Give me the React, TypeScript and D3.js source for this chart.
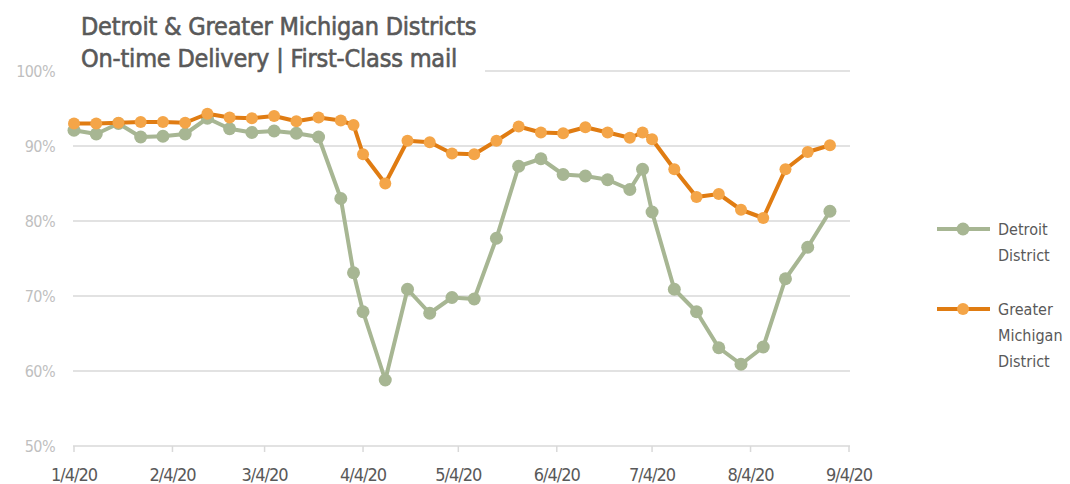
import React from "react";
import * as d3 from "d3";

const dates = [
  "2020-01-04","2020-01-11","2020-01-18","2020-01-25","2020-02-01","2020-02-08","2020-02-15","2020-02-22","2020-02-29",
  "2020-03-07","2020-03-14","2020-03-21","2020-03-28","2020-04-01","2020-04-04","2020-04-11","2020-04-18","2020-04-25",
  "2020-05-02","2020-05-09","2020-05-16","2020-05-23","2020-05-30","2020-06-06","2020-06-13","2020-06-20","2020-06-27",
  "2020-07-01","2020-07-04","2020-07-11","2020-07-18","2020-07-25","2020-08-01","2020-08-08","2020-08-15","2020-08-22","2020-08-29",
];
const detroit = [
  92.1, 91.6, 93.0, 91.2, 91.3, 91.6, 93.7, 92.3, 91.8,
  92.0, 91.7, 91.2, 83.0, 73.1, 67.9, 58.8, 70.9, 67.7,
  69.8, 69.6, 77.7, 87.3, 88.3, 86.2, 86.0, 85.5, 84.2,
  86.9, 81.2, 70.9, 67.9, 63.1, 60.9, 63.2, 72.3, 76.5, 81.3,
];
const greaterMichigan = [
  93.0, 93.0, 93.1, 93.2, 93.2, 93.1, 94.3, 93.8, 93.7,
  94.0, 93.3, 93.8, 93.4, 92.8, 88.9, 85.0, 90.7, 90.5,
  89.0, 88.9, 90.7, 92.6, 91.8, 91.7, 92.5, 91.8, 91.1,
  91.8, 90.9, 86.9, 83.2, 83.6, 81.5, 80.4, 86.9, 89.2, 90.1,
];
const yTicks = [50, 60, 70, 80, 90, 100];
const xTickDates = ["2020-01-04","2020-02-04","2020-03-04","2020-04-04","2020-05-04","2020-06-04","2020-07-04","2020-08-04","2020-09-04"];
const titleLines = ["Detroit & Greater Michigan Districts", "On-time Delivery | First-Class mail"];

const FONT = "'DejaVu Sans Condensed', 'Liberation Sans Narrow', Roboto, sans-serif";

export default function App() {
  const parse = d3.utcParse("%Y-%m-%d");
  const fmt = (d: Date) => `${d.getUTCMonth() + 1}/${d.getUTCDate()}/${String(d.getUTCFullYear()).slice(2)}`;
  const x = d3.scaleUtc().domain([parse(xTickDates[0])!, parse(xTickDates[xTickDates.length - 1])!]).range([74, 849]);
  const y = d3.scaleLinear().domain([50, 100]).range([446, 71]);

  const series = [
    { name: ["Detroit", "District"], values: detroit, line: "#a7b693", dot: "#a7b693", r: 6.5, ly: 229 },
    { name: ["Greater", "Michigan", "District"], values: greaterMichigan, line: "#e07c12", dot: "#f4a548", r: 6, ly: 309 },
  ];
  const lineGen = d3.line<[Date, number]>().x((d) => x(d[0])).y((d) => y(d[1]));

  return (
    <svg width={1070} height={484} style={{ position: "absolute", left: 0, top: 0, background: "#fff" }}>
      {yTicks.map((t) => (
        <g key={t}>
          <line x1={73} x2={850} y1={y(t)} y2={y(t)} stroke="#d9d9d9" strokeWidth={1.5} />
          <text x={55} y={y(t)} dy="0.37em" textAnchor="end" fill="#bfbfbf" fontSize={16} letterSpacing={-0.6} fontFamily={FONT}>{t}%</text>
        </g>
      ))}
      {xTickDates.map((s) => {
        const d = parse(s)!;
        return (
          <g key={s}>
            <line x1={x(d)} x2={x(d)} y1={y(50)} y2={y(50) + 6} stroke="#d9d9d9" strokeWidth={1.5} />
            <text x={x(d)} y={481} textAnchor="middle" fill="#595959" fontSize={18} letterSpacing={-1} fontFamily={FONT}>{fmt(d)}</text>
          </g>
        );
      })}
      <rect x={60} y={0} width={425} height={80} fill="#fff" />
      {titleLines.map((t, i) => (
        <text key={i} x={81} y={35 + i * 32} fill="#595959" stroke="#595959" strokeWidth={0.6} fontSize={25} letterSpacing={-0.2} fontFamily={FONT}>{t}</text>
      ))}
      {series.map((s, si) => {
        const pts: [Date, number][] = dates.map((d, i) => [parse(d)!, s.values[i]]);
        return (
          <g key={si}>
            <path d={lineGen(pts)!} fill="none" stroke={s.line} strokeWidth={4} strokeLinejoin="round" />
            {pts.map((p, i) => (
              <circle key={i} cx={x(p[0])} cy={y(p[1])} r={s.r} fill={s.dot} />
            ))}
            <line x1={937} x2={990} y1={s.ly} y2={s.ly} stroke={s.line} strokeWidth={4} />
            <circle cx={963} cy={s.ly} r={s.r} fill={s.dot} />
            {s.name.map((n, k) => (
              <text key={k} x={998} y={s.ly + k * 26} dy="0.36em" fill="#595959" fontSize={16} fontFamily={FONT}>{n}</text>
            ))}
          </g>
        );
      })}
    </svg>
  );
}
